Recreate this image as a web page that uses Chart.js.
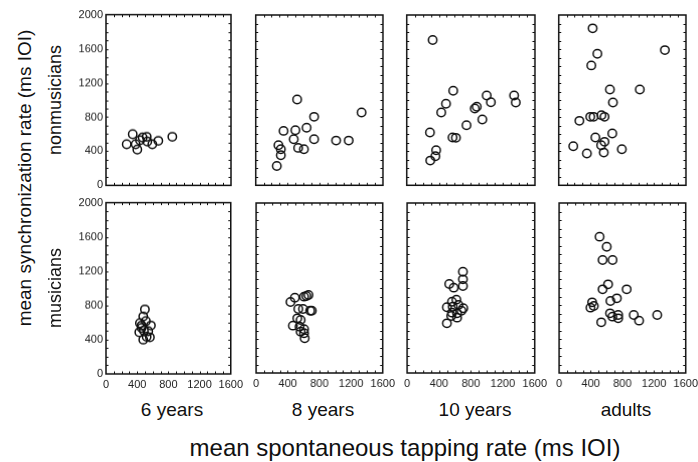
<!DOCTYPE html>
<html><head><meta charset="utf-8">
<script src="https://cdn.jsdelivr.net/npm/chart.js@4.4.0/dist/chart.umd.min.js"></script>
<style>
html,body{margin:0;padding:0;background:#fff;width:698px;height:462px;overflow:hidden;font-family:"Liberation Sans",Arial,sans-serif;}
.lbl{position:absolute;white-space:nowrap;color:#111;transform:translate(-50%,-50%);}
.rot{transform:translate(-50%,-50%) rotate(-90deg);}
.p{position:absolute;}
</style></head><body>
<div id="root"></div>
<script>
// ---- data ----
const groups = ['6 years', '8 years', '10 years', 'adults'];
const rowNames = ['nonmusicians', 'musicians'];
const xTickValues = [0, 400, 800, 1200, 1600];
const yTickValues = [0, 400, 800, 1200, 1600, 2000];
const xTitle = 'mean spontaneous tapping rate (ms IOI)';
const yTitle = 'mean synchronization rate (ms IOI)';

// [spontaneous rate, synchronization rate]
const nonmus6 = [[342,600],[265,482],[380,482],[401,420],[469,561],[521,569],[529,514],[435,529],[593,482],[670,522],[849,569]];
const nonmus8 = [[521,1008],[265,227],[286,471],[316,424],[316,353],[350,639],[499,647],[478,541],[534,439],[606,424],[640,675],[734,804],[734,541],[1011,525],[1169,525],[1331,855]];
const nonmus10 = [[324,1706],[580,1110],[490,957],[431,855],[290,620],[367,412],[358,341],[294,290],[572,561],[614,557],[746,706],[849,902],[874,922],[943,773],[998,1055],[1050,976],[1340,1055],[1361,973]];
const nonmusAdults = [[427,1843],[1335,1588],[486,1545],[410,1408],[644,1125],[1020,1125],[682,973],[397,804],[439,804],[538,824],[576,804],[260,757],[461,561],[674,608],[576,510],[534,471],[183,459],[354,373],[567,384],[794,424]];
const mus6 = [[499,753],[478,671],[512,616],[576,565],[457,565],[427,486],[486,506],[542,498],[521,435],[478,400],[457,537],[435,592],[563,427]];
const mus8 = [[490,886],[435,835],[606,898],[662,918],[636,906],[534,753],[593,753],[683,733],[704,733],[521,643],[563,624],[465,557],[550,545],[606,514],[563,486],[614,408],[606,467]];
const mus10 = [[700,1192],[700,1102],[700,1024],[529,1047],[585,1004],[563,839],[618,863],[499,773],[572,780],[644,800],[704,761],[682,733],[627,702],[554,671],[627,651],[499,584],[563,710]];
const musAdults = [[512,1604],[602,1486],[550,1329],[676,1329],[619,1043],[550,984],[854,984],[730,878],[649,847],[418,831],[397,769],[439,788],[644,702],[674,663],[747,682],[747,643],[943,682],[1011,616],[533,596],[1240,682]];

const panelData = [[nonmus6, nonmus8, nonmus10, nonmusAdults], [mus6, mus8, mus10, musAdults]];

// ---- layout ----
const colLeft = [106, 256, 407, 559];
const colWidth = [125, 126, 127, 126];
const rowTop = [15, 203];
const rowHeight = 170;

const root = document.getElementById('root');
const FONT = '"Liberation Sans", Arial, sans-serif';

const framePlugin = {
  id: 'frame',
  afterDraw(chart) {
    const ctx = chart.ctx, a = chart.chartArea;
    const xs = chart.scales.x, ys = chart.scales.y;
    ctx.save();
    ctx.strokeStyle = '#111';
    ctx.lineWidth = 1;
    const t = 2.5;
    ctx.beginPath();
    for (let v = 100; v < 1600; v += 100) {
      const px = Math.round(xs.getPixelForValue(v)) + 0.5;
      ctx.moveTo(px, a.top); ctx.lineTo(px, a.top + t);
      ctx.moveTo(px, a.bottom); ctx.lineTo(px, a.bottom - t);
    }
    for (let v = 100; v < 2000; v += 100) {
      const py = Math.round(ys.getPixelForValue(v)) + 0.5;
      ctx.moveTo(a.left, py); ctx.lineTo(a.left + t, py);
      ctx.moveTo(a.right, py); ctx.lineTo(a.right - t, py);
    }
    ctx.stroke();
    ctx.lineWidth = 1.5;
    ctx.strokeRect(a.left, a.top, a.right - a.left, a.bottom - a.top);
    ctx.restore();
  }
};

function makeConfig(r, c) {
  const pts = panelData[r][c].map(p => ({x: p[0], y: p[1]}));
  return {
    type: 'scatter',
    data: {datasets: [{
      data: pts,
      pointRadius: 4.2,
      pointBorderWidth: 1.5,
      pointBorderColor: '#111',
      pointBackgroundColor: 'rgba(255,255,255,0)',
      showLine: false
    }]},
    options: {
      responsive: false,
      maintainAspectRatio: false,
      animation: false,
      devicePixelRatio: 1,
      plugins: {legend: {display: false}, tooltip: {enabled: false}, title: {display: false}},
      layout: {padding: {top: 8, right: 16, bottom: 2, left: 4}},
      scales: {
        x: {
          type: 'linear', min: 0, max: 1600,
          grid: {display: false, drawTicks: false}, border: {display: false},
          afterBuildTicks(s) { s.ticks = xTickValues.map(v => ({value: v})); },
          ticks: {display: r === 1, color: '#222', font: {family: FONT, size: 11}, maxRotation: 0, padding: 4, autoSkip: false,
                  callback: v => String(v)},
          afterFit(s) { s.height = r === 1 ? 20 : 0; }
        },
        y: {
          type: 'linear', min: 0, max: 2000,
          grid: {display: false, drawTicks: false}, border: {display: false},
          afterBuildTicks(s) { s.ticks = yTickValues.map(v => ({value: v})); },
          ticks: {display: c === 0, color: '#222', font: {family: FONT, size: 11}, padding: 3, autoSkip: false,
                  callback: v => String(v)},
          afterFit(s) { s.width = c === 0 ? 32 : 0; }
        }
      }
    },
    plugins: [framePlugin]
  };
}

function build(r, c) {
  const TW = colWidth[c], TH = rowHeight;
  let W = TW + 60, H = TH + 40;
  const div = document.createElement('div');
  div.className = 'p';
  root.appendChild(div);
  let chart = null;
  for (let iter = 0; iter < 3; iter++) {
    div.innerHTML = '';
    const cv = document.createElement('canvas');
    cv.width = W; cv.height = H;
    cv.style.width = W + 'px'; cv.style.height = H + 'px';
    div.appendChild(cv);
    if (chart) chart.destroy();
    chart = new Chart(cv, makeConfig(r, c));
    const a = chart.chartArea;
    const dw = TW - (a.right - a.left), dh = TH - (a.bottom - a.top);
    if (Math.abs(dw) < 0.01 && Math.abs(dh) < 0.01) break;
    W += dw; H += dh;
  }
  const a = chart.chartArea;
  div.style.left = (colLeft[c] - a.left) + 'px';
  div.style.top = (rowTop[r] - a.top) + 'px';
}

for (let r = 0; r < 2; r++) for (let c = 0; c < 4; c++) build(r, c);

function addLabel(text, x, y, size, rot) {
  const d = document.createElement('div');
  d.className = 'lbl' + (rot ? ' rot' : '');
  d.textContent = text;
  d.style.left = x + 'px'; d.style.top = y + 'px';
  d.style.fontSize = size + 'px';
  document.body.appendChild(d);
}
const groupX = [172, 323, 475, 626];
groups.forEach((g, i) => addLabel(g, groupX[i], 410, 19, false));
addLabel(xTitle, 405, 448, 24, false);
addLabel(yTitle, 25, 178, 19, true);
addLabel(rowNames[0], 55, 100, 18, true);
addLabel(rowNames[1], 55, 288, 18, true);
</script>
</body></html>
